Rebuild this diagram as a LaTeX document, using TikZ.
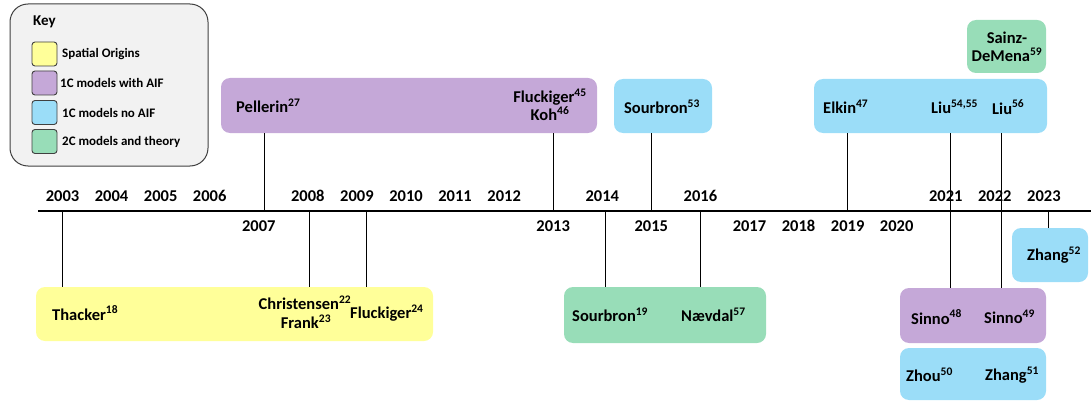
\documentclass[tikz,border=0pt]{standalone}
\usepackage{fontspec}
\setmainfont{Carlito}
\definecolor{cyel}{HTML}{FFFF99}
\definecolor{cpur}{HTML}{C5A8D8}
\definecolor{cblu}{HTML}{9BDDF8}
\definecolor{cgrn}{HTML}{98DDB8}
\definecolor{ckey}{HTML}{F2F2F2}
\definecolor{cedge}{HTML}{404040}
\newcommand\sx[1]{\textsuperscript{#1}}
\tikzset{
  every node/.style={inner sep=0pt},
  tbox/.style={rounded corners=9pt, draw=none},
  swatch/.style={rounded corners=3pt, draw=cedge, line width=0.9pt, minimum width=25pt, minimum height=24pt},
  nm/.style={font=\bfseries\fontsize{16.5}{18}\selectfont, align=center},
  yr/.style={font=\bfseries\fontsize{16.5}{18}\selectfont},
  lg/.style={font=\bfseries\fontsize{13}{15}\selectfont, anchor=west},
  conn/.style={line width=1pt, black},
  axisline/.style={line width=1.6pt, black},
}
\begin{document}
\begin{tikzpicture}[x=1pt,y=-1pt]
\path[use as bounding box] (0,0) rectangle (1091,401);

% Key
\node[rounded corners=18pt, draw=cedge, fill=ckey, line width=1pt, minimum width=198pt, minimum height=162pt] (key) at (109,85) {};
\node[font=\bfseries\fontsize{15}{17}\selectfont, anchor=west] (keyt) at (33,22) {Key};
\node[swatch, fill=cyel] (s1) at (44.5,54) {};
\node[swatch, fill=cpur] (s2) at (44.5,83) {};
\node[swatch, fill=cblu] (s3) at (44.5,112.5) {};
\node[swatch, fill=cgrn] (s4) at (44.5,141.5) {};
\node[lg] (l1) at (62,54) {Spatial Origins};
\node[lg] (l2) at (60,83) {1C models with AIF};
\node[lg] (l3) at (62,112.5) {1C models no AIF};
\node[lg] (l4) at (62,141.5) {2C models and theory};

% Boxes
\node[tbox, fill=cpur, minimum width=376pt, minimum height=55pt] (purTop) at (409,105.5) {};
\node[tbox, fill=cblu, minimum width=98pt, minimum height=54pt] (s53) at (663,106) {};
\node[tbox, fill=cblu, minimum width=233pt, minimum height=54pt] (bluTop) at (930.5,106) {};
\node[tbox, fill=cgrn, minimum width=79pt, minimum height=53pt] (sainz) at (1006.5,46.5) {};
\node[tbox, fill=cyel, minimum width=397pt, minimum height=54pt] (yel) at (234.5,314) {};
\node[tbox, fill=cgrn, minimum width=202pt, minimum height=56pt] (grnB) at (665,315) {};
\node[tbox, fill=cblu, minimum width=76pt, minimum height=54pt] (z52) at (1050,255) {};
\node[tbox, fill=cpur, minimum width=146pt, minimum height=55pt] (sinno) at (973,315.5) {};
\node[tbox, fill=cblu, minimum width=146pt, minimum height=52pt] (zhou) at (973,374) {};

% Axis
\coordinate (axL) at (38,211);
\coordinate (axR) at (1091,211);
\draw[axisline] (axL) -- (axR);

% Years
\foreach \yy in {2003,2004,2005,2006,2008,2009,2010,2011,2012,2014,2016,2021,2022,2023}{
  \pgfmathsetmacro\xx{62.5+49.07*(\yy-2003)}
  \node[yr] (y\yy) at (\xx,196) {\yy};
}
\foreach \yy in {2007,2013,2015,2017,2018,2019,2020}{
  \pgfmathsetmacro\xx{62.5+49.07*(\yy-2003)}
  \node[yr] (y\yy) at (\xx,226) {\yy};
}

% Connector anchors on axis
\coordinate (cP) at (264,211);
\coordinate (cK) at (553,211);
\coordinate (cS53) at (651,211);
\coordinate (cE) at (847,211);
\coordinate (cL1) at (950,211);
\coordinate (cL2) at (1001,211);
\coordinate (cT) at (62,211);
\coordinate (cC) at (309,211);
\coordinate (cF) at (366,211);
\coordinate (cS19) at (605,211);
\coordinate (cN) at (700,211);
\coordinate (cSi1) at (950,211);
\coordinate (cSi2) at (1001,211);
\coordinate (cZ) at (1048,211);

\draw[conn] (cP) -- (cP |- purTop.south);
\draw[conn] (cK) -- (cK |- purTop.south);
\draw[conn] (cS53) -- (cS53 |- s53.south);
\draw[conn] (cE) -- (cE |- bluTop.south);
\draw[conn] (cL1) -- (cL1 |- bluTop.south);
\draw[conn] (cL2) -- (cL2 |- bluTop.south);
\draw[conn] (cT) -- (cT |- yel.north);
\draw[conn] (cC) -- (cC |- yel.north);
\draw[conn] (cF) -- (cF |- yel.north);
\draw[conn] (cS19) -- (cS19 |- grnB.north);
\draw[conn] (cN) -- (cN |- grnB.north);
\draw[conn] (cSi1) -- (cSi1 |- sinno.north);
\draw[conn] (cSi2) -- (cSi2 |- sinno.north);
\draw[conn] (cZ) -- (cZ |- z52.north);

% Names
\node[nm, anchor=west] (pel) at (236,106) {Pellerin\sx{27}};
\node[nm] (fk) at (550,105) {Fluckiger\sx{45}\\Koh\sx{46}};
\node[nm] (sb53) at (662,107) {Sourbron\sx{53}};
\node[nm, anchor=west] (elk) at (823,107) {Elkin\sx{47}};
\node[nm, anchor=west] (liu1) at (931,107) {Liu\sx{54,55}};
\node[nm, anchor=west] (liu2) at (992,107) {Liu\sx{56}};
\node[nm] (sdm) at (1007,47) {Sainz-\\DeMena\sx{59}};
\node[nm, anchor=west] (tha) at (52,313) {Thacker\sx{18}};
\node[nm] (chr) at (305,303) {Christensen\sx{22}};
\node[nm] (frk) at (306,322) {Frank\sx{23}};
\node[nm, anchor=west] (flu24) at (350,313) {Fluckiger\sx{24}};
\node[nm, anchor=west] (sb19) at (572,315) {Sourbron\sx{19}};
\node[nm, anchor=west] (nae) at (681,315) {Nævdal\sx{57}};
\node[nm] (zh52) at (1054,255) {Zhang\sx{52}};
\node[nm, anchor=west] (si48) at (911,317) {Sinno\sx{48}};
\node[nm, anchor=west] (si49) at (984,317) {Sinno\sx{49}};
\node[nm, anchor=west] (zho) at (906,375) {Zhou\sx{50}};
\node[nm, anchor=west] (zh51) at (985,375) {Zhang\sx{51}};
\end{tikzpicture}
\end{document}
